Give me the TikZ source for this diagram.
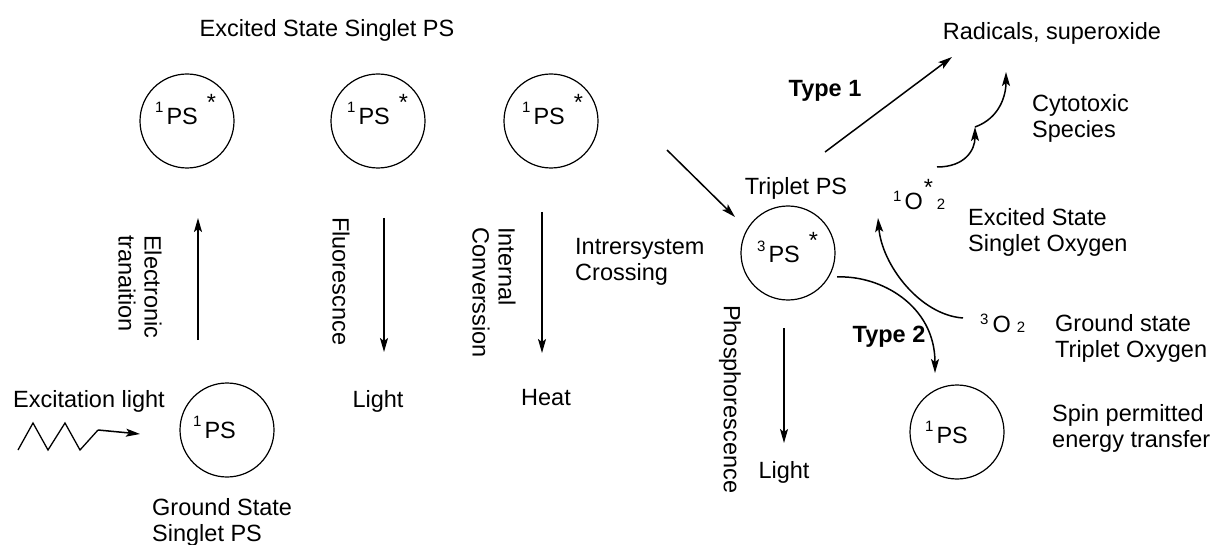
\documentclass[tikz,border=0pt]{standalone}
\usepackage{fontspec}
\setmainfont{Liberation Sans}
\usetikzlibrary{arrows.meta}
\newcommand\smallsup[2][12pt]{\raisebox{#1}{\fontsize{15}{15}\selectfont #2}}
\newcommand\starsup{\raisebox{14pt}{*}}
\newcommand\subtwo{{\fontsize{15}{15}\selectfont 2}}
\tikzset{
  txt/.style={font=\fontsize{23.5}{26}\selectfont, inner sep=0pt, align=left},
  boldtxt/.style={txt, font=\fontsize{23.5}{26}\selectfont\bfseries},
  vtxt/.style={txt, rotate=-90, anchor=west},
  circ/.style={circle, draw, line width=1.2pt, minimum size=94pt, inner sep=0pt},
  arr/.style={line width=1.5pt, -{Stealth[length=14pt,width=8pt,inset=3pt]}},
  ln/.style={line width=1.3pt}
}
\begin{document}
\begin{tikzpicture}[x=1pt,y=-1pt]
\useasboundingbox (0,0) rectangle (1212,545);

% circles
\node[circ] (c1) at (187,121) {};
\node[circ] (c2) at (378,121) {};
\node[circ] (c3) at (551,121) {};
\node[circ] (g)  at (227,430) {};
\node[circ] (t)  at (788,253) {};
\node[circ] (r)  at (957,432) {};

% circle labels
\node[txt, anchor=base west] (c1l) at (155,125) {\smallsup{1}\hspace{3pt}PS\hspace{9pt}\starsup};
\node[txt, anchor=base west] (c2l) at (347,125) {\smallsup{1}\hspace{3pt}PS\hspace{9pt}\starsup};
\node[txt, anchor=base west] (c3l) at (522,125) {\smallsup{1}\hspace{3pt}PS\hspace{9pt}\starsup};
\node[txt, anchor=base west] (gl)  at (193,438) {\smallsup{1}\hspace{3pt}PS};
\node[txt, anchor=base west] (tl)  at (757,263) {\smallsup{3}\hspace{3pt}PS\hspace{9pt}\starsup};
\node[txt, anchor=base west] (rl)  at (925,443) {\smallsup{1}\hspace{3pt}PS};

% texts
\node[txt] (title) at (327,30) {Excited State Singlet PS};
\node[vtxt] (et) at (140,235) {Electronic\\tranaition};
\node[vtxt] (fl) at (341,217) {Fluorescnce};
\node[vtxt] (ic) at (494,227) {Internal\\Converssion};
\node[vtxt] (ph) at (730,305) {Phosphorescence};
\node[txt, anchor=west] (isc) at (575,262) {Intrersystem\\Crossing};
\node[txt] (trip) at (796,188) {Triplet PS};
\node[txt] (light1) at (378,401) {Light};
\node[txt] (heat) at (546,398) {Heat};
\node[txt] (light2) at (784,472) {Light};
\node[txt] (exc) at (89,401) {Excitation light};
\node[txt, anchor=west] (gs) at (152,522) {Ground State\\Singlet PS};
\node[txt] (rad) at (1052,33) {Radicals, superoxide};
\node[boldtxt] (type1) at (825,91) {Type 1};
\node[boldtxt] (type2) at (889,337) {Type 2};
\node[txt, anchor=west] (cyto) at (1032,118) {Cytotoxic\\Species};
\node[txt, anchor=base west] (o1) at (893,210) {\smallsup[8pt]{1}\hspace{3pt}O\hspace{1pt}\starsup\hspace{4pt}\subtwo};
\node[txt, anchor=west] (eso) at (968,232) {Excited State\\Singlet Oxygen};
\node[txt, anchor=base west] (o3) at (980,332) {\smallsup[8pt]{3}\hspace{4pt}O\hspace{6pt}\subtwo};
\node[txt, anchor=west] (gso) at (1055,338) {Ground state\\Triplet Oxygen};
\node[txt, anchor=west] (spin) at (1052,428) {Spin permitted\\energy transfer};

% connector end points
\coordinate (etS) at (198,340); \coordinate (etE) at (198,218);
\coordinate (flS) at (384,218); \coordinate (flE) at (384,352);
\coordinate (icS) at (542,212); \coordinate (icE) at (542,353);
\coordinate (phS) at (784,328); \coordinate (phE) at (784,443);
\coordinate (iscS) at (667,150); \coordinate (iscE) at (735,217);
\coordinate (t1S) at (825,152); \coordinate (t1E) at (952,57);
\coordinate (t2S) at (837,277); \coordinate (t2E) at (935,373);
\coordinate (o3S) at (963,318); \coordinate (o1E) at (878,218);
\coordinate (cyS) at (937,167); \coordinate (cyM) at (975,127); \coordinate (cyE) at (1006,72);
\coordinate (z0) at (18,450); \coordinate (zz) at (98,430); \coordinate (zt) at (140,434);

% arrows
\draw[arr] (etS) -- (etE);
\draw[arr] (flS) -- (flE);
\draw[arr] (icS) -- (icE);
\draw[arr] (phS) -- (phE);
\draw[arr] (iscS) -- (iscE);
\draw[arr] (t1S) -- (t1E);
\draw[arr] (t2S) .. controls (880,275) and (935,305) .. (t2E);
\draw[arr] (o3S) .. controls (920,315) and (882,265) .. (o1E);
\draw[arr] (cyS) .. controls (965,167) and (975,150) .. (cyM);
\draw[arr] (cyM) .. controls (1000,118) and (1006,95) .. (cyE);
\draw[ln, line join=miter] (z0) -- (33,423) -- (48,450) -- (65,423) -- (80,450) -- (zz);
\draw[arr] (zz) -- (zt);
\end{tikzpicture}
\end{document}
